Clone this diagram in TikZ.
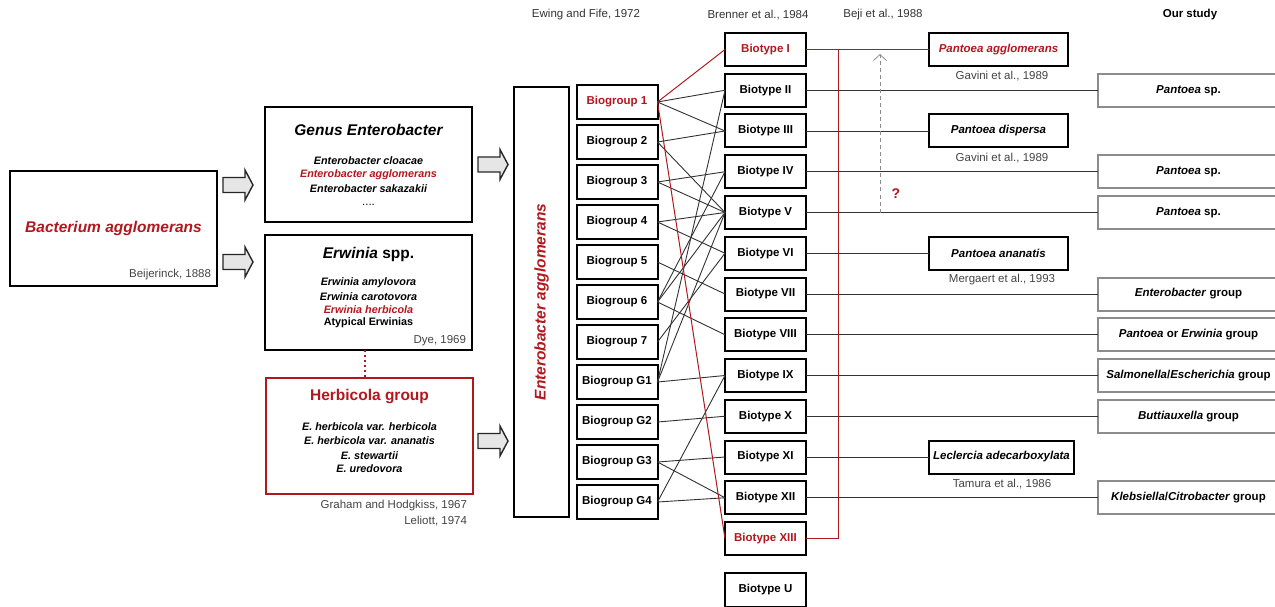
\documentclass[tikz,border=0pt]{standalone}
\usepackage{fontspec}
\setmainfont{Liberation Sans}
\usetikzlibrary{arrows.meta}
\definecolor{dred}{RGB}{176,24,30}
\definecolor{lnk}{RGB}{50,50,50}
\definecolor{refc}{RGB}{68,68,68}
\definecolor{stdy}{RGB}{140,140,140}
\definecolor{afill}{RGB}{230,230,230}
\begin{document}
\begin{tikzpicture}[x=1pt,y=-1pt,
  every node/.style={inner sep=0pt, outer sep=0pt},
  fs/.style={font=\fontsize{11.5}{13}\selectfont},
  bigbox/.style={draw=black, line width=2pt, minimum width=207pt, minimum height=115pt},
  tallbox/.style={draw=black, line width=1.8pt, minimum width=55pt, minimum height=430pt},
  grpbox/.style={draw=black, line width=2pt, fill=white, minimum width=81pt, minimum height=34pt, font=\bfseries\fontsize{11.5}{13}\selectfont},
  typebox/.style={grpbox, minimum height=33pt},
  namebox/.style={draw=black, line width=2pt, minimum width=139pt, minimum height=33pt, font=\bfseries\itshape\fontsize{11.5}{13}\selectfont},
  studybox/.style={draw=stdy, line width=2pt, minimum width=181pt, minimum height=33pt, font=\bfseries\fontsize{11.5}{13}\selectfont},
  reftext/.style={text=refc, font=\fontsize{11.5}{13}\selectfont},
  headtext/.style={font=\bfseries\itshape\fontsize{15.5}{18}\selectfont},
  itemtext/.style={font=\bfseries\itshape\fontsize{10.8}{13}\selectfont},
  link/.style={draw=lnk, line width=0.9pt},
  redlink/.style={draw=dred, line width=1pt},
  blockarrow/.pic={\draw[line width=1.4pt, draw=black!85, fill=afill] (0,-7.5) -- (22,-7.5) -- (22,-15) -- (30,0) -- (22,15) -- (22,7.5) -- (0,7.5) -- cycle;}
]
\useasboundingbox (0,0) rectangle (1275,607);

% headers
\node[reftext, text=black!80] (h1) at (586,15) {Ewing and Fife, 1972};
\node[reftext, text=black!80] (h2) at (758,15) {Brenner et al., 1984};
\node[reftext, text=black!80] (h3) at (883,15) {Beji et al., 1988};
\node[font=\bfseries\fontsize{11.5}{13}\selectfont] (h4) at (1190,15) {Our study};

% left column
\node[bigbox] (bact) at (113.5,228.5) {};
\node[headtext, text=dred] (bactt) at (113.5,228) {Bacterium agglomerans};
\node[reftext, anchor=east] (beij) at (211,275) {Beijerinck, 1888};

\node[bigbox] (genus) at (368.5,164.5) {};
\node[headtext] (genust) at (368.5,130) {Genus Enterobacter};
\node[itemtext] (ga) at (368.5,161) {Enterobacter cloacae};
\node[itemtext, text=dred] (gb) at (368.5,175) {Enterobacter agglomerans};
\node[itemtext] (gc) at (368.5,189) {Enterobacter sakazakii};
\node[fs] (gd) at (368.5,205) {....};

\node[bigbox] (erw) at (368.5,292.5) {};
\node[headtext] (erwt) at (368.5,254) {Erwinia \textup{spp.}};
\node[itemtext] (ea) at (368.5,283) {Erwinia amylovora};
\node[itemtext] (eb) at (368.5,297) {Erwinia carotovora};
\node[itemtext, text=dred] (ec) at (368.5,310) {Erwinia herbicola};
\node[font=\bfseries\fontsize{10.8}{13}\selectfont] (ed) at (368.5,323) {Atypical Erwinias};
\node[reftext, anchor=east] (dye) at (466,341) {Dye, 1969};

\node[bigbox, draw=dred, line width=1.5pt, minimum height=116pt] (herb) at (369.5,436) {};
\node[font=\bfseries\fontsize{15.5}{18}\selectfont, text=dred] (herbt) at (369.5,397) {Herbicola group};
\node[itemtext] (ha) at (369.5,427) {E. herbicola var. herbicola};
\node[itemtext] (hb) at (369.5,441) {E. herbicola var. ananatis};
\node[itemtext] (hc) at (369.5,456) {E. stewartii};
\node[itemtext] (hd) at (369.5,469) {E. uredovora};
\node[reftext, anchor=east] (graham) at (467,506) {Graham and Hodgkiss, 1967};
\node[reftext, anchor=east] (leliott) at (467,521) {Leliott, 1974};

\draw[dred, line width=1.5pt, dash pattern=on 1.6pt off 3.4pt] ([xshift=-3.5pt]erw.south) -- ([xshift=-4.5pt]herb.north);

\pic at (223,185) {blockarrow};
\pic at (223,262) {blockarrow};
\pic at (478,164.5) {blockarrow};
\pic at (478,441) {blockarrow};

% tall box
\node[tallbox] (eagg) at (541.5,302) {};
\node[headtext, text=dred, rotate=90] (eaggt) at (541.5,302) {Enterobacter agglomerans};

% biogroups
\foreach \n/\t/\c [count=\i from 0] in {g1/Biogroup 1/dred, g2/Biogroup 2/black, g3/Biogroup 3/black, g4/Biogroup 4/black, g5/Biogroup 5/black, g6/Biogroup 6/black, g7/Biogroup 7/black, g8/Biogroup G1/black, g9/Biogroup G2/black, g10/Biogroup G3/black, g11/Biogroup G4/black}
  \node[grpbox, text=\c] (\n) at (617,{102+40*\i}) {\t};

% biotypes
\foreach \n/\t/\c [count=\i from 0] in {t1/Biotype I/dred, t2/Biotype II/black, t3/Biotype III/black, t4/Biotype IV/black, t5/Biotype V/black, t6/Biotype VI/black, t7/Biotype VII/black, t8/Biotype VIII/black, t9/Biotype IX/black, t10/Biotype X/black, t11/Biotype XI/black, t12/Biotype XII/black, t13/Biotype XIII/dred}
  \node[typebox, text=\c] (\n) at (765.5,{49.5+40.75*\i}) {\t};
\node[typebox, minimum height=34pt] (tU) at (765.5,590) {Biotype U};

% biogroup -> biotype links
\foreach \a/\b in {g1/t2, g1/t3, g2/t3, g2/t5, g3/t4, g3/t5, g4/t5, g4/t6, g5/t7, g6/t4, g6/t5, g6/t8, g7/t6, g8/t2, g8/t5, g8/t9, g9/t10, g10/t11, g10/t12, g11/t9, g11/t12}
  \draw[link] (\a.east) -- (\b.west);
\draw[redlink] (g1.east) -- (t1.west);
\draw[redlink] (g1.east) -- (t13.west);

% named species
\node[namebox, text=dred] (pagg) at (998.5,49.5) {Pantoea agglomerans};
\node[reftext] (gav1) at (1002,76) {Gavini et al., 1989};
\node[namebox] (pdis) at (998.5,131) {Pantoea dispersa};
\node[reftext] (gav2) at (1002,158) {Gavini et al., 1989};
\node[namebox] (pana) at (998.5,253.25) {Pantoea ananatis};
\node[reftext] (merg) at (1002,280) {Mergaert et al., 1993};
\node[namebox, minimum width=145pt] (lecl) at (1001.5,457) {Leclercia adecarboxylata};
\node[reftext] (tam) at (1002,484) {Tamura et al., 1986};

% our study
\node[studybox] (s2) at (1188.5,90.25) {\textit{Pantoea} sp.};
\node[studybox] (s4) at (1188.5,171.75) {\textit{Pantoea} sp.};
\node[studybox] (s5) at (1188.5,212.5) {\textit{Pantoea} sp.};
\node[studybox] (s7) at (1188.5,294) {\textit{Enterobacter} group};
\node[studybox] (s8) at (1188.5,334.75) {\textit{Pantoea} or \textit{Erwinia} group};
\node[studybox] (s9) at (1188.5,375.5) {\textit{Salmonella}/\textit{Escherichia} group};
\node[studybox] (s10) at (1188.5,416.25) {\textit{Buttiauxella} group};
\node[studybox] (s12) at (1188.5,497.75) {\textit{Klebsiella}/\textit{Citrobacter} group};

% biotype -> right links
\draw[redlink] (t1.east) -- (pagg.west);
\draw[link] (t3.east) -- (pdis.west);
\draw[link] (t6.east) -- (pana.west);
\draw[link] (t11.east) -- (lecl.west);
\foreach \k in {2,4,5,7,8,9,10,12}
  \draw[link] (t\k.east) -- (s\k.west);

\coordinate (rtop) at (838,49.5);
\coordinate (rbot) at (838,538.5);
\draw[redlink] (rtop) -- (rbot) -- (t13.east);

% dashed question arrow
\coordinate (qs) at (880,212.5);
\coordinate (qe) at (880,54);
\draw[draw=black!45, line width=0.8pt, dash pattern=on 4pt off 3pt, -{Straight Barb[length=6pt,width=13pt]}] (qs) -- (qe);
\node[text=dred, font=\bfseries\fontsize{14}{16}\selectfont] (qm) at (896,194) {?};
\end{tikzpicture}
\end{document}
